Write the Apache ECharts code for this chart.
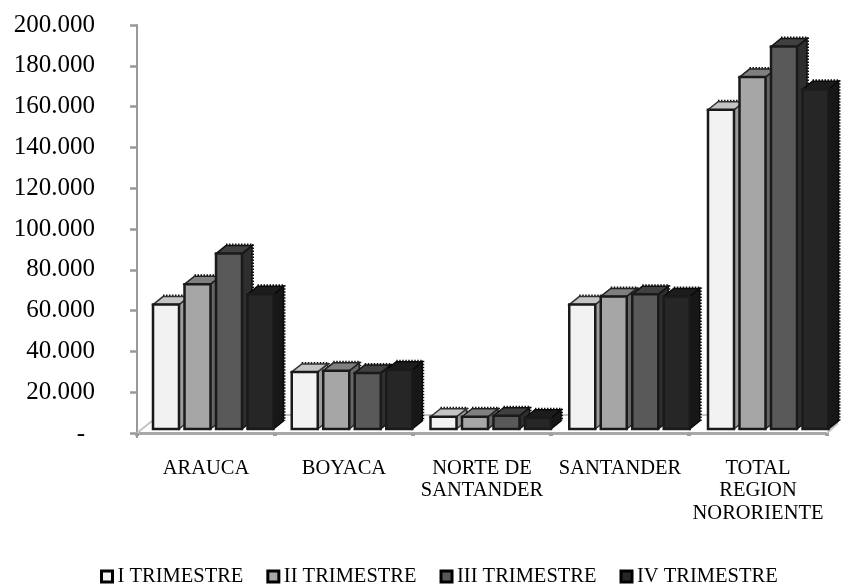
<!DOCTYPE html>
<html>
<head>
<meta charset="utf-8">
<style>html,body{margin:0;padding:0;background:#fff}#chart{width:842px;height:584px}</style>
<script src="https://cdn.jsdelivr.net/npm/echarts@6/dist/echarts.min.js"></script>
</head>
<body>
<div id="chart"></div>
<script>
// Departamentos de la región nororiente, valores por trimestre
const categories = ['ARAUCA', 'BOYACA', 'NORTE DE\nSANTANDER', 'SANTANDER', 'TOTAL\nREGION\nNORORIENTE'];
const seriesNames = ['I TRIMESTRE', 'II TRIMESTRE', 'III TRIMESTRE', 'IV TRIMESTRE'];
const trimestre1 = [61000, 28000, 6000, 61000, 156500];
const trimestre2 = [71000, 28500, 6000, 65000, 172500];
const trimestre3 = [86000, 27500, 6500, 66000, 187500];
const trimestre4 = [66000, 29000, 5500, 65000, 166500];
const seriesValues = [trimestre1, trimestre2, trimestre3, trimestre4];

const FONT = '"Liberation Serif", "Times New Roman", serif';
// Tonos de cada prisma: cara frontal, tapa, lateral
const faces = [
  { front: '#f2f2f2', top: '#c4c4c4', side: '#9c9c9c', edge: '#333333' },
  { front: '#a6a6a6', top: '#7f7f7f', side: '#666666', edge: '#222222' },
  { front: '#595959', top: '#404040', side: '#2e2e2e', edge: '#111111' },
  { front: '#262626', top: '#1c1c1c', side: '#171717', edge: '#0a0a0a' }
];
const DEPTH_X = 10, DEPTH_Y = 8, BAR_W = 26, PITCH = 31.5, LIFT = 4;

function poly(points, fill, stroke, width) {
  return { type: 'polygon', shape: { points }, style: { fill, stroke, lineWidth: width } };
}

// Prisma con frente, tapa y lateral, ubicado con las escalas de los ejes
function prism(serieIndex) {
  return function (params, api) {
    const cat = api.value(0);
    const centre = api.coord([cat, 0])[0];
    const yBase = api.coord([cat, 0])[1] - LIFT;
    const yTop = api.coord([cat, api.value(1)])[1] - LIFT;
    const x = centre - 53 + serieIndex * PITCH + cat * 0.75;
    const r = x + BAR_W;
    const f = faces[serieIndex];
    const back = [[x + DEPTH_X, yTop - DEPTH_Y - 1], [r + DEPTH_X + 1, yTop - DEPTH_Y - 1], [r + DEPTH_X + 1, yBase - DEPTH_Y]];
    return {
      type: 'group',
      children: [
        { type: 'polyline', shape: { points: back }, style: { fill: null, stroke: '#111', lineWidth: 2, lineDash: [1.5, 1.5] } },
        poly([[r, yBase], [r + DEPTH_X, yBase - DEPTH_Y], [r + DEPTH_X, yTop - DEPTH_Y], [r, yTop]], f.side, f.edge, 1.5),
        poly([[x, yTop], [x + DEPTH_X, yTop - DEPTH_Y], [r + DEPTH_X, yTop - DEPTH_Y], [r, yTop]], f.top, f.edge, 1.5),
        { type: 'rect', shape: { x, y: yTop, width: BAR_W, height: yBase - yTop }, style: { fill: f.front, stroke: '#1a1a1a', lineWidth: 2.5 } }
      ]
    };
  };
}

// Piso en perspectiva y prolongación inferior del eje vertical
function floor(params, api) {
  const cs = params.coordSys;
  const left = cs.x, right = cs.x + cs.width, y0 = cs.y + cs.height;
  const gray = { stroke: '#c4c4c4', lineWidth: 2, fill: null };
  return {
    type: 'group',
    children: [
      { type: 'polyline', shape: { points: [[left, y0], [left + 15, y0 - 12]] }, style: gray },
      { type: 'polyline', shape: { points: [[right, y0], [right + 11, y0 - 10]] }, style: gray },
      { type: 'line', shape: { x1: left + 15, y1: y0 - 18, x2: right + 10, y2: y0 - 18 }, style: gray },
      { type: 'line', shape: { x1: left, y1: y0, x2: left, y2: y0 + 5 }, style: { stroke: '#999', lineWidth: 2 } }
    ]
  };
}

const chart = echarts.init(document.getElementById('chart'), null, { renderer: 'canvas' });
chart.setOption({
  animation: false,
  backgroundColor: '#fff',
  textStyle: { fontFamily: FONT },
  grid: { left: 137, top: 25, width: 690, height: 408, containLabel: false },
  legend: {
    left: 100, top: 566, padding: 0, itemGap: 23, itemWidth: 11, itemHeight: 11,
    textStyle: { fontFamily: FONT, fontSize: 20.5, color: '#000' },
    data: seriesNames.map((name, i) => ({
      name, icon: 'rect',
      itemStyle: { color: faces[i].front, borderColor: '#000', borderWidth: 3 }
    }))
  },
  xAxis: {
    type: 'category', data: categories, offset: 4,
    axisLine: { lineStyle: { color: '#a8a8a8', width: 3, type: [2, 1] } },
    axisTick: { show: true, length: 3, lineStyle: { color: '#a0a0a0', width: 4 } },
    axisLabel: { interval: 0, margin: 20, fontFamily: FONT, fontSize: 20.5, lineHeight: 22.5, color: '#000' }
  },
  yAxis: {
    type: 'value', min: 0, max: 200000, interval: 20000,
    splitLine: { show: false },
    axisLine: { show: true, lineStyle: { color: '#999', width: 2 } },
    axisTick: { show: true, length: 7, lineStyle: { color: '#999', width: 2.5 } },
    axisLabel: {
      margin: 42, fontFamily: FONT, fontSize: 25, color: '#000',
      formatter: v => v === 0 ? '{dash|-}' : (v / 1000) + '.000',
      rich: { dash: { fontFamily: FONT, fontSize: 25, color: '#000', padding: [3, 10, 0, 0] } }
    }
  },
  series: [
    { type: 'custom', name: 'piso', silent: true, z: 1, renderItem: floor, data: [[0, 0]], encode: { x: 0, y: 1 } }
  ].concat(seriesNames.map((name, i) => ({
    type: 'custom',
    name,
    z: 2 + i,
    renderItem: prism(i),
    itemStyle: { color: faces[i].front },
    encode: { x: 0, y: 1 },
    data: seriesValues[i].map((v, c) => [c, v])
  })))
});
</script>
</body>
</html>
